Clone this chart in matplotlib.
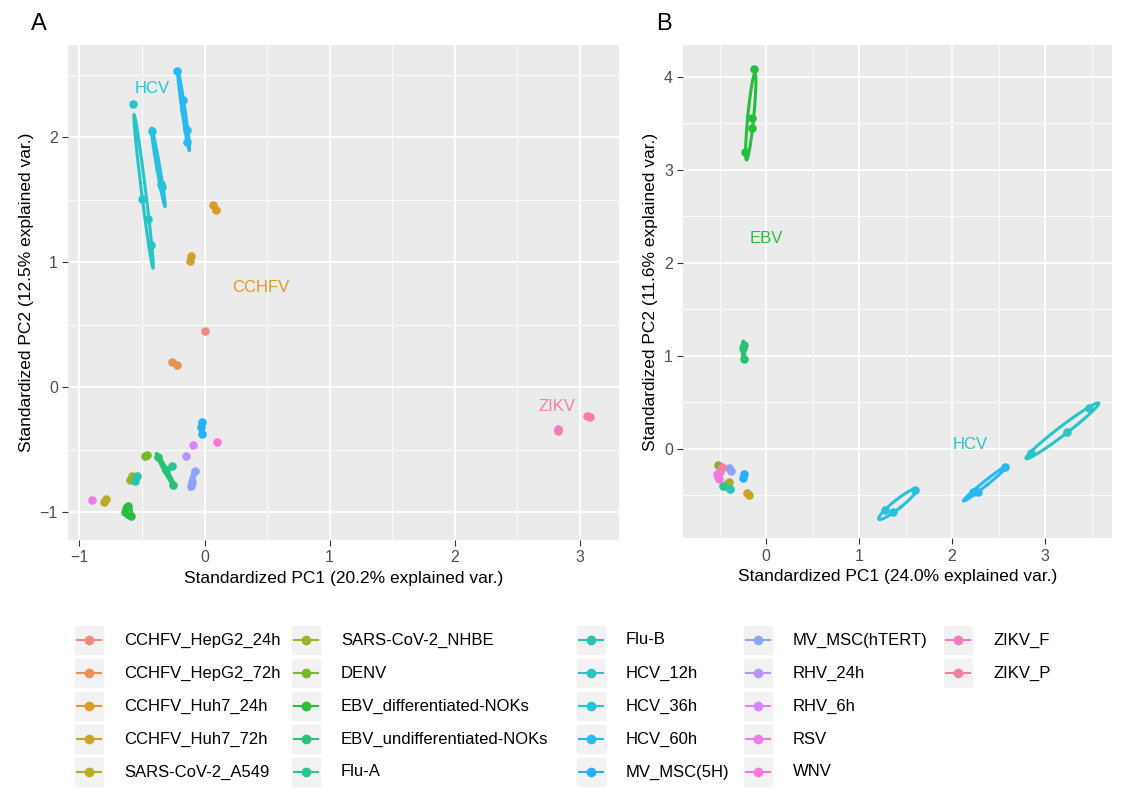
import numpy as np
import matplotlib.pyplot as plt
from matplotlib.lines import Line2D

plt.rcParams['font.family'] = ['Liberation Sans', 'DejaVu Sans']

groups = ['CCHFV_HepG2_24h', 'CCHFV_HepG2_72h', 'CCHFV_Huh7_24h', 'CCHFV_Huh7_72h',
          'SARS-CoV-2_A549', 'SARS-CoV-2_NHBE', 'DENV', 'EBV_differentiated-NOKs',
          'EBV_undifferentiated-NOKs', 'Flu-A', 'Flu-B', 'HCV_12h', 'HCV_36h', 'HCV_60h',
          'MV_MSC(5H)', 'MV_MSC(hTERT)', 'RHV_24h', 'RHV_6h', 'RSV', 'WNV', 'ZIKV_F', 'ZIKV_P']

# panel A points per group (PC1, PC2)
pts_a = {
    'CCHFV_HepG2_24h': ([0.0], [0.45]),
    'CCHFV_HepG2_72h': ([-0.26, -0.22], [0.20, 0.18]),
    'CCHFV_Huh7_24h': ([0.07, 0.09], [1.46, 1.42]),
    'CCHFV_Huh7_72h': ([-0.11, -0.12], [1.05, 1.01]),
    'SARS-CoV-2_A549': ([-0.79, -0.80], [-0.89, -0.92]),
    'SARS-CoV-2_NHBE': ([-0.58, -0.60], [-0.71, -0.74]),
    'DENV': ([-0.46, -0.48], [-0.54, -0.55]),
    'EBV_differentiated-NOKs': ([-0.61, -0.64, -0.59], [-0.95, -1.00, -1.03]),
    'EBV_undifferentiated-NOKs': ([-0.37, -0.31, -0.25], [-0.56, -0.66, -0.78]),
    'Flu-A': ([-0.26], [-0.63]),
    'Flu-B': ([-0.54, -0.56], [-0.71, -0.75]),
    'HCV_12h': ([-0.57, -0.50, -0.45, -0.43], [2.27, 1.51, 1.35, 1.14]),
    'HCV_36h': ([-0.42, -0.35, -0.34], [2.05, 1.63, 1.60]),
    'HCV_60h': ([-0.22, -0.17, -0.14, -0.14], [2.53, 2.30, 2.06, 1.96]),
    'MV_MSC(5H)': ([-0.02, -0.03, -0.02], [-0.28, -0.32, -0.37]),
    'MV_MSC(hTERT)': ([-0.08, -0.11, -0.10], [-0.67, -0.79, -0.76]),
    'RHV_24h': ([-0.15], [-0.55]),
    'RHV_6h': ([-0.09], [-0.46]),
    'RSV': ([-0.90], [-0.90]),
    'WNV': ([0.10], [-0.44]),
    'ZIKV_F': ([2.83, 2.83], [-0.33, -0.35]),
    'ZIKV_P': ([3.06, 3.08], [-0.23, -0.24]),
}

pts_b = {
    'CCHFV_HepG2_24h': ([-0.42], [-0.38]),
    'CCHFV_HepG2_72h': ([-0.44], [-0.40]),
    'CCHFV_Huh7_24h': ([-0.20], [-0.48]),
    'CCHFV_Huh7_72h': ([-0.18], [-0.50]),
    'SARS-CoV-2_A549': ([-0.42], [-0.38]),
    'SARS-CoV-2_NHBE': ([-0.40], [-0.36]),
    'DENV': ([-0.52], [-0.17]),
    'EBV_differentiated-NOKs': ([-0.13, -0.15, -0.15, -0.23], [4.08, 3.56, 3.45, 3.19]),
    'EBV_undifferentiated-NOKs': ([-0.24, -0.24, -0.25], [1.12, 0.96, 1.08]),
    'Flu-A': ([-0.46], [-0.40]),
    'Flu-B': ([-0.39], [-0.43]),
    'HCV_12h': ([3.47, 3.24, 2.85], [0.44, 0.18, -0.04]),
    'HCV_36h': ([1.28, 1.37, 1.60], [-0.66, -0.68, -0.44]),
    'HCV_60h': ([2.22, 2.28, 2.57], [-0.46, -0.46, -0.20]),
    'MV_MSC(5H)': ([-0.24, -0.25], [-0.27, -0.31]),
    'MV_MSC(hTERT)': ([-0.40, -0.38], [-0.21, -0.24]),
    'RHV_24h': ([-0.50], [-0.25]),
    'RHV_6h': ([-0.52], [-0.30]),
    'RSV': ([-0.53], [-0.27]),
    'WNV': ([-0.51], [-0.32]),
    'ZIKV_F': ([-0.48], [-0.22]),
    'ZIKV_P': ([-0.47], [-0.20]),
}


def hcl(h, c=100, l=65):
    hr = np.radians(h)
    u, v = c * np.cos(hr), c * np.sin(hr)
    xn, yn, zn = 95.047, 100.0, 108.883
    un = 4 * xn / (xn + 15 * yn + 3 * zn)
    vn = 9 * yn / (xn + 15 * yn + 3 * zn)
    y = yn * (((l + 16) / 116) ** 3 if l > 8 else l / 903.3)
    up = u / (13 * l) + un
    vp = v / (13 * l) + vn
    x = y * 9 * up / (4 * vp)
    z = y * (12 - 3 * up - 20 * vp) / (4 * vp)
    xyz = np.array([x, y, z]) / 100
    m = np.array([[3.2406, -1.5372, -0.4986], [-0.9689, 1.8758, 0.0415], [0.0557, -0.2040, 1.0570]])
    rgb = m @ xyz
    rgb = np.where(rgb > 0.0031308, 1.055 * np.abs(rgb) ** (1 / 2.4) - 0.055, 12.92 * rgb)
    rgb = np.clip(rgb, 0, 1)
    # soften a bit, like the reference's slightly washed colours
    return tuple(0.82 * rgb + 0.18 * np.array([0.86, 0.86, 0.86]))


n = len(groups)
cols = {g: hcl(15 + 360 * i / n) for i, g in enumerate(groups)}


def panel(ax, pts):
    ax.set_facecolor('#EBEBEB')
    ax.grid(True, color='white', lw=1.3)
    ax.set_axisbelow(True)
    for s in ax.spines.values():
        s.set_visible(False)
    t = np.linspace(0, 2 * np.pi, 100)
    for g in groups:
        x, y = np.array(pts[g][0]), np.array(pts[g][1])
        ax.scatter(x, y, s=38, color=cols[g], zorder=3, lw=0)
        if len(x) >= 3:
            cov = np.cov(x, y)
            w, v = np.linalg.eigh(cov)
            w = np.sqrt(np.maximum(w, 1e-4)) * 1.25
            e = v @ np.vstack([w[0] * np.cos(t), w[1] * np.sin(t)])
            ax.plot(e[0] + x.mean(), e[1] + y.mean(), color=cols[g], lw=2.2, zorder=3)
    ax.tick_params(colors='#4D4D4D', labelsize=11.5, length=4, color='#333333')


fig = plt.figure(figsize=(11.37, 8.02), dpi=100)
axa = fig.add_axes([0.060, 0.327, 0.484, 0.617])
axb = fig.add_axes([0.601, 0.329, 0.377, 0.615])
panel(axa, pts_a)
panel(axb, pts_b)

axa.set_xlim(-1.09, 3.31)
axa.set_ylim(-1.22, 2.74)
axa.set_xticks([-1, 0, 1, 2, 3])
axa.set_yticks([-1, 0, 1, 2])
axa.set_xticks([-0.5, 0.5, 1.5, 2.5], minor=True)
axa.set_yticks([-0.5, 0.5, 1.5, 2.5], minor=True)
axa.grid(True, which='minor', color='white', lw=0.6)
axa.tick_params(which='minor', length=0)
axa.set_xticklabels(['\u22121', '0', '1', '2', '3'])
axa.set_yticklabels(['\u22121', '0', '1', '2'])
axa.set_xlabel('Standardized PC1 (20.2% explained var.)', fontsize=12.5)
axa.set_ylabel('Standardized PC2 (12.5% explained var.)', fontsize=12.5)
axa.text(-0.42, 2.39, 'HCV', color=cols['HCV_12h'], fontsize=12, ha='center', va='center')
axa.text(0.45, 0.80, 'CCHFV', color=cols['CCHFV_Huh7_24h'], fontsize=12, ha='center', va='center')
axa.text(2.82, -0.15, 'ZIKV', color=cols['ZIKV_P'], fontsize=12, ha='center', va='center')

axb.set_xlim(-0.89, 3.72)
axb.set_ylim(-0.96, 4.34)
axb.set_xticks([0, 1, 2, 3])
axb.set_yticks([0, 1, 2, 3, 4])
axb.set_xticks([-0.5, 0.5, 1.5, 2.5, 3.5], minor=True)
axb.set_yticks([-0.5, 0.5, 1.5, 2.5, 3.5], minor=True)
axb.grid(True, which='minor', color='white', lw=0.6)
axb.tick_params(which='minor', length=0)
axb.set_xlabel('Standardized PC1 (24.0% explained var.)', fontsize=12.5)
axb.set_ylabel('Standardized PC2 (11.6% explained var.)', fontsize=12.5)
axb.text(0.0, 2.26, 'EBV', color=cols['EBV_differentiated-NOKs'], fontsize=12, ha='center', va='center')
axb.text(2.2, 0.05, 'HCV', color=cols['HCV_12h'], fontsize=12, ha='center', va='center')

fig.text(0.027, 0.97, 'A', fontsize=17, va='center')
fig.text(0.577, 0.97, 'B', fontsize=17, va='center')

# legend, 5 columns of up to 5 rows
col_x = [88, 305, 590, 757, 957]
row_y = [640, 673, 706, 739, 772]
W, H = 1137, 802
for i, g in enumerate(groups):
    c, r = divmod(i, 5)
    x, y = col_x[c], row_y[r]
    fig.patches.append(plt.Rectangle(((x - 13) / W, 1 - (y + 14) / H), 28 / W, 28 / H,
                                     transform=fig.transFigure, color='#F2F2F2', zorder=0))
    fig.add_artist(Line2D([(x - 11) / W, (x + 13) / W], [1 - y / H] * 2, color=cols[g], lw=1.5))
    fig.add_artist(Line2D([(x + 1) / W], [1 - y / H], marker='o', ms=6, color=cols[g]))
    fig.text((x + 36) / W, 1 - y / H, g, fontsize=12, va='center')

fig.savefig('out.png', dpi=100)
